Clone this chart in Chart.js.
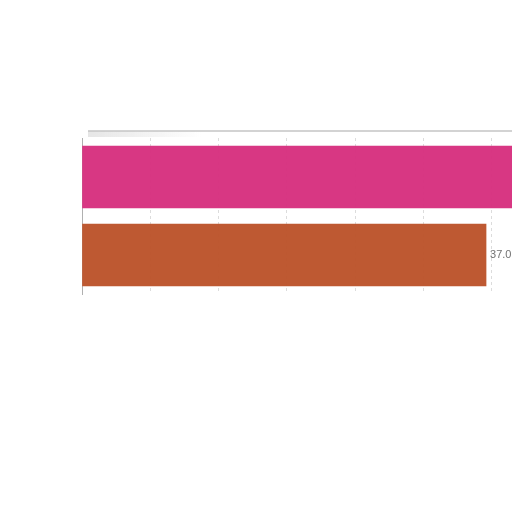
<!DOCTYPE html>
<html>
<head>
<meta charset="utf-8">
<script src="https://cdn.jsdelivr.net/npm/chart.js@4"></script>
<style>
  html, body { margin: 0; padding: 0; background: #fff; overflow: hidden; }
  #wrap { position: absolute; left: 0; top: 0; width: 700px; height: 512px; }
</style>
</head>
<body>
<div id="wrap"><canvas id="chart"></canvas></div>
<script>
const categories = ['A', 'B'];
const values = [45.0, 37.0];
const barColors = ['rgba(214, 47, 126, 0.96)', 'rgba(188, 84, 43, 0.97)'];
const axisMax = 50;
const gridStep = 6.25;

// value text at the end of each bar
const valueLabels = {
  id: 'valueLabels',
  afterDatasetsDraw(chart) {
    const { ctx } = chart;
    const meta = chart.getDatasetMeta(0);
    ctx.save();
    ctx.font = '11px "Liberation Sans", Arial, sans-serif';
    ctx.fillStyle = '#707070';
    ctx.textBaseline = 'middle';
    meta.data.forEach((bar, i) => {
      ctx.fillText(values[i].toFixed(1), bar.x + 4, bar.y);
    });
    ctx.restore();
  },
};

// thin grey frame line above the plot
const topRule = {
  id: 'topRule',
  beforeDraw(chart) {
    const { ctx, chartArea } = chart;
    const y = chartArea.top - 7;
    ctx.save();
    const g = ctx.createLinearGradient(chartArea.left, 0, chartArea.left + 120, 0);
    g.addColorStop(0, 'rgba(150,150,150,0.25)');
    g.addColorStop(1, 'rgba(150,150,150,0)');
    ctx.fillStyle = g;
    ctx.fillRect(chartArea.left + 6, y, 120, 6);
    ctx.strokeStyle = '#c4c4c4';
    ctx.lineWidth = 1.5;
    ctx.beginPath();
    ctx.moveTo(chartArea.left + 6, y);
    ctx.lineTo(chart.width, y);
    ctx.stroke();
    ctx.restore();
  },
};

new Chart(document.getElementById('chart'), {
  type: 'bar',
  data: {
    labels: categories,
    datasets: [{
      data: values,
      backgroundColor: barColors,
      borderWidth: 0,
      barThickness: 62,
    }],
  },
  options: {
    indexAxis: 'y',
    responsive: true,
    maintainAspectRatio: false,
    animation: false,
    layout: { padding: { left: 82, top: 138, bottom: 218, right: 72 } },
    plugins: { legend: { display: false }, tooltip: { enabled: false } },
    scales: {
      x: {
        min: 0,
        max: axisMax,
        ticks: { display: false, stepSize: gridStep },
        grid: { color: '#dcdcdc', drawTicks: false, tickBorderDash: [3, 3] },
        border: { display: false, dash: [3, 3] },
      },
      y: {
        ticks: { display: false },
        grid: { display: false, drawTicks: false },
        border: { display: true, color: '#b0b0b0', width: 1 },
      },
    },
  },
  plugins: [topRule, valueLabels],
});
</script>
</body>
</html>
